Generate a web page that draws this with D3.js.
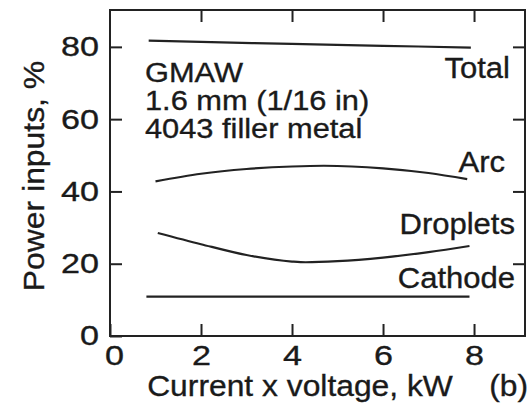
<!DOCTYPE html>
<html>
<head>
<meta charset="utf-8">
<script src="https://cdn.jsdelivr.net/npm/d3@7"></script>
<style>
  body { margin: 0; background: #fff; }
  text { font-family: "Liberation Sans", Arial, sans-serif; fill: #1a1a1a; stroke: #1a1a1a; stroke-width: 0.35px; }
</style>
</head>
<body>
<div id="chart"></div>
<script>
// data (kW, %)
var totalPts    = [[0.85, 81.7], [2, 81.4], [4, 80.8], [6, 80.3], [7.93, 79.8]];
var arcPts      = [[1.0, 42.8], [2, 44.9], [3, 46.2], [4, 46.9], [4.7, 47.1], [6, 46.4], [7, 45.1], [7.85, 43.4]];
var dropletPts  = [[1.05, 28.5], [2, 25.4], [3, 22.4], [4, 20.6], [4.3, 20.4], [5, 20.7], [6, 21.7], [7, 23.2], [7.9, 24.9]];
var cathodePts  = [[0.8, 10.9], [7.9, 10.9]];
var seriesNames = ["Total", "Arc", "Droplets", "Cathode"];
var xTicks = [0, 2, 4, 6, 8];
var yTicks = [0, 20, 40, 60, 80];
var notes = ["GMAW", "1.6 mm (1/16 in)", "4043 filler metal"];

var W = 531, H = 404;
var margin = {top: 10, right: 6, bottom: 68, left: 110},
    width = W - margin.left - margin.right,
    height = H - margin.top - margin.bottom;

var svg = d3.select("#chart")
  .append("svg")
    .attr("width", W)
    .attr("height", H)
  .append("g")
    .attr("transform", "translate(" + margin.left + "," + margin.top + ")");

var x = d3.scaleLinear().domain([0, 9.12]).range([0, width]);
var y = d3.scaleLinear().domain([0, 90.2]).range([height, 0]);

// the lettering in the original is a bit wider than Arial, so stretch it
function addText(x0, y0, str, size, anchor, sx, rot) {
  return svg.append("text")
    .attr("transform", "translate(" + x0 + "," + y0 + ")" + (rot ? " rotate(" + rot + ")" : "") + " scale(" + sx + ",1)")
    .attr("text-anchor", anchor)
    .style("font-size", size + "px")
    .text(str);
}

// frame
svg.append("rect")
  .attr("width", width).attr("height", height)
  .attr("fill", "none").attr("stroke", "#222").attr("stroke-width", 2);

// axes, ticks pointing inwards
var tickSx = 1.22;
function styleAxis(g) {
  g.select(".domain").remove();
  g.selectAll(".tick line").attr("stroke", "#222").attr("stroke-width", 2);
  g.selectAll("text").style("font-size", "28px").attr("fill", "#1a1a1a");
}
svg.append("g")
  .attr("transform", "translate(0," + height + ")")
  .call(d3.axisBottom(x).tickValues(xTicks).tickSizeInner(-12).tickPadding(9).tickFormat(d3.format("d")))
  .call(styleAxis)
  .selectAll("text")
    .attr("x", function(d) { return d === 0 ? 4 / tickSx : 0; })
    .attr("transform", "scale(" + tickSx + ",1)");
svg.append("g")
  .call(d3.axisTop(x).tickValues(xTicks.slice(1)).tickSizeInner(-12).tickFormat(""))
  .call(styleAxis);
svg.append("g")
  .call(d3.axisLeft(y).tickValues(yTicks).tickSizeInner(-12).tickFormat(d3.format("d")))
  .call(styleAxis)
  .selectAll("text")
    .attr("x", -11 / tickSx)
    .attr("transform", "scale(" + tickSx + ",1)");
svg.append("g")
  .attr("transform", "translate(" + width + ",0)")
  .call(d3.axisRight(y).tickValues(yTicks.slice(1)).tickSizeInner(-12).tickFormat(""))
  .call(styleAxis);

// curves
var line = d3.line()
  .x(function(d) { return x(d[0]); })
  .y(function(d) { return y(d[1]); })
  .curve(d3.curveMonotoneX);

[totalPts, arcPts, dropletPts, cathodePts].forEach(function(pts) {
  svg.append("path")
    .datum(pts)
    .attr("d", line)
    .attr("fill", "none")
    .attr("stroke", "#222")
    .attr("stroke-width", 2.2);
});

// series labels (right aligned)
var labelPos = [[400, 68], [395, 162], [405, 224], [405, 278]];
seriesNames.forEach(function(n, i) {
  addText(labelPos[i][0], labelPos[i][1], n, 29, "end", 1.07);
});

// notes
notes.forEach(function(n, i) {
  addText(35, 72 + i * 28, n, 28, "start", 1.1);
});

// axis titles
addText(190, height + 60, "Current x voltage, kW", 30, "middle", 1.06);
addText(418, height + 60, "(b)", 30, "end", 1.06);
addText(-66.5, 166, "Power inputs, %", 29, "middle", 1.1, -90);
</script>
</body>
</html>
